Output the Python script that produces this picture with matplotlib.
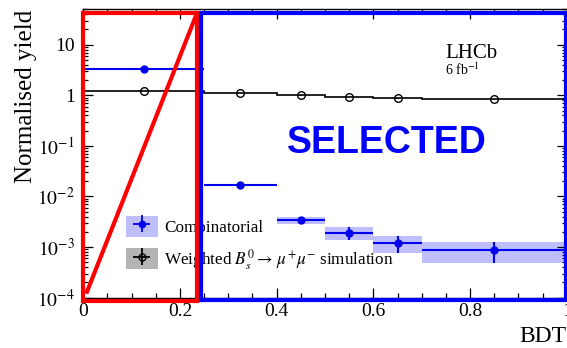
import matplotlib
matplotlib.use("Agg")
import matplotlib.pyplot as plt
from matplotlib.patches import Patch, Rectangle
from matplotlib.lines import Line2D
import numpy as np

# BDT bin edges
bin_edges = [0.0, 0.25, 0.4, 0.5, 0.6, 0.7, 1.0]

# Combinatorial background, normalised yield per bin
comb_yield = [3.3, 0.0168, 0.00343, 0.00192, 0.00122, 0.000865]
comb_err = [0.05, 0.0004, 0.00056, 0.00056, 0.00045, 0.00039]

# Weighted Bs0 -> mu+ mu- simulation, normalised yield per bin
sig_yield = [1.2, 1.1, 0.99, 0.93, 0.87, 0.85]
sig_err = [0.01, 0.01, 0.01, 0.01, 0.01, 0.01]

y_tick_values = [1e-4, 1e-3, 1e-2, 1e-1, 1, 10]
y_tick_labels = [r"$10^{-4}$", r"$10^{-3}$", r"$10^{-2}$", r"$10^{-1}$", "1", "10"]
x_tick_values = [0, 0.2, 0.4, 0.6, 0.8, 1.0]
x_tick_labels = ["0", "0.2", "0.4", "0.6", "0.8", "1"]

plt.rcParams["font.family"] = ["Liberation Serif", "DejaVu Serif"]
plt.rcParams["mathtext.fontset"] = "stix"

W, H = 567, 348
fig = plt.figure(figsize=(W / 100, H / 100), dpi=100)
ax_l, ax_r, ax_t, ax_b = 83.3, 566.7, 9.3, 297.7
ax = fig.add_axes([ax_l / W, 1 - ax_b / H, (ax_r - ax_l) / W, (ax_b - ax_t) / H])

edges = np.array(bin_edges)
centers = 0.5 * (edges[1:] + edges[:-1])
widths = np.diff(edges)

blue = "#0000ee"
band_blue = (0.0, 0.0, 1.0, 0.25)

# uncertainty bands for the combinatorial background
cy = np.array(comb_yield)
ce = np.array(comb_err)
ax.bar(centers, 2 * ce, bottom=cy - ce, width=widths, align="center",
       color=band_blue, linewidth=0, zorder=1)

# signal simulation as a histogram with open markers
ax.stairs(sig_yield, edges, color="black", linewidth=1.2, zorder=2)
ax.errorbar(centers, sig_yield, yerr=sig_err, fmt="o", mfc="none", mec="black",
            ecolor="black", ms=5.5, mew=1.0, capsize=0, zorder=3)

# combinatorial points with bin-width horizontal bars
ax.errorbar(centers, comb_yield, xerr=widths / 2, yerr=comb_err, fmt="o",
            color=blue, ms=5, lw=1.5, capsize=0, zorder=4)

ax.set_xlim(0, 1)
ax.set_yscale("log")
ax.set_ylim(1e-4, 50)
ax.set_xticks(x_tick_values, x_tick_labels)
ax.set_yticks(y_tick_values, y_tick_labels)
ax.xaxis.set_minor_locator(matplotlib.ticker.MultipleLocator(0.05))
ax.yaxis.set_minor_locator(matplotlib.ticker.LogLocator(base=10, subs=np.arange(2, 10)))
ax.yaxis.set_minor_formatter(matplotlib.ticker.NullFormatter())
ax.tick_params(which="both", direction="in", top=True, right=True, labelsize=14, width=0.9)
ax.tick_params(which="major", length=7.5)
ax.tick_params(which="minor", length=3.8)
ax.tick_params(axis="x", pad=4)
ax.tick_params(axis="y", pad=6)
for s in ax.spines.values():
    s.set_linewidth(1.0)

ax.set_ylabel("Normalised yield", fontsize=18, loc="top", labelpad=0)
ax.set_xlabel("BDT", fontsize=17, loc="right", labelpad=4)

# legend with shaded boxes behind the error-bar symbols
leg_blue = ax.errorbar([], [], xerr=[], yerr=[], fmt="o", color=blue, ms=4.5, lw=1.3, capsize=3)
leg_black = ax.errorbar([], [], xerr=[], yerr=[], fmt="o", color="black", mfc="none",
                        ms=5, lw=1.3, capsize=3)
handles = [(Patch(facecolor=band_blue, edgecolor="none"), leg_blue),
           (Patch(facecolor="#b4b4b4", edgecolor="none"), leg_black)]
labels = ["Combinatorial", r"Weighted $B_s^0 \rightarrow\, \mu^{+}\mu^{-}$ simulation"]
ax.legend(handles, labels, loc="upper left",
          bbox_to_anchor=((126 - ax_l) / (ax_r - ax_l), (ax_b - 215.7) / (ax_b - ax_t)),
          frameon=False, fontsize=12.3, borderpad=0, borderaxespad=0,
          handlelength=1.85, handleheight=1.5, handletextpad=0.36, labelspacing=0.62)

fig.text(445 / W, 1 - 58 / H, "LHCb", fontsize=15, ha="left", va="baseline")
fig.text(445 / W, 1 - 75 / H, r"6 fb$^{-1}$", fontsize=10, ha="left", va="baseline")
fig.text(387 / W, 1 - 143 / H, "SELECTED", fontsize=27, fontweight="bold",
         family="Liberation Sans", color="#0000ff", ha="center", va="center")


def ax_frac(px, py):
    return ((px - ax_l) / (ax_r - ax_l), (ax_b - py) / (ax_b - ax_t))


# highlighted regions
x0, y0 = ax_frac(83.3, 301)
x1, y1 = ax_frac(197, 13)
ax.add_patch(Rectangle((x0, y0), x1 - x0, y1 - y0, transform=ax.transAxes,
                       fill=False, edgecolor="#ff0000", lw=3, clip_on=False, zorder=10))
x0, y0 = ax_frac(200.5, 300)
x1, y1 = ax_frac(566, 12.5)
ax.add_patch(Rectangle((x0, y0), x1 - x0, y1 - y0, transform=ax.transAxes,
                       fill=False, edgecolor="#0000ff", lw=3, clip_on=False, zorder=10))
p0 = ax_frac(87, 291.7)
p1 = ax_frac(197, 13)
ax.add_line(Line2D([p0[0], p1[0]], [p0[1], p1[1]], transform=ax.transAxes,
                   color="#ff0000", lw=3, clip_on=False, zorder=10))

fig.savefig("out.png", dpi=100)
